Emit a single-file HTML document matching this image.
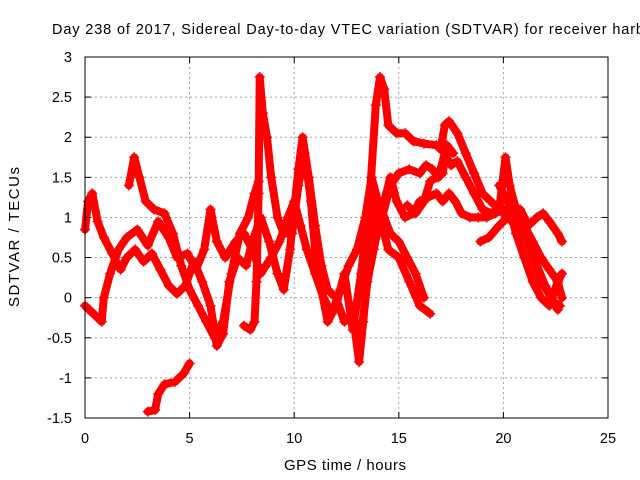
<!DOCTYPE html>
<html><head><meta charset="utf-8"><style>
body{margin:0;background:#fff}
svg{display:block;font-family:"Liberation Sans",sans-serif}
</style></head><body>
<svg id="chart" width="640" height="480" viewBox="0 0 640 480">
<rect width="640" height="480" fill="#fff"/>
<g id="grid"></g>
<g id="series"></g>
<rect x="85" y="57" width="523" height="361" fill="none" stroke="#000" stroke-width="1"/>
<g id="ticks"></g>
<text x="52" y="34" font-size="14.5" textLength="592" lengthAdjust="spacing">Day 238 of 2017, Sidereal Day-to-day VTEC variation (SDTVAR) for receiver harb</text>
<text transform="translate(19,237) rotate(-90)" text-anchor="middle" font-size="15" textLength="140" lengthAdjust="spacing">SDTVAR / TECUs</text>
<text x="345" y="470" text-anchor="middle" font-size="15" textLength="122" lengthAdjust="spacing">GPS time / hours</text>
</svg>
<script>
const xTicks=[0,5,10,15,20,25];
const yTicks=[-1.5,-1,-0.5,0,0.5,1,1.5,2,2.5,3];
const trackA=[[0,0.85],[0.15,1.2],[0.35,1.3],[0.6,0.95],[0.9,0.75],[1.3,0.55],[1.7,0.35],[2.0,0.5],[2.4,0.6],[2.8,0.45],[3.2,0.55],[3.6,0.35],[4.0,0.15],[4.4,0.05],[4.8,0.15],[5.2,0.45],[5.6,0.2],[6.0,-0.1],[6.3,-0.6],[6.6,-0.45],[6.9,0.2],[7.3,0.5],[7.7,0.4],[8.0,0.7],[8.4,1.0],[8.8,0.7],[9.2,0.3],[9.5,0.1],[9.8,0.6],[10.2,1.6],[10.4,2.0],[10.7,1.5],[11.0,0.9],[11.3,0.4],[11.6,0.1],[12.0,0.0],[12.4,-0.3],[12.8,-0.2],[13.1,-0.8],[13.3,-0.3],[13.6,0.5],[13.9,1.2],[14.2,0.9],[14.5,0.6],[15.0,0.5],[15.5,0.2],[16.0,-0.1],[16.5,-0.2]];
const trackB=[[0,-0.1],[0.4,-0.2],[0.8,-0.3],[0.9,0.0],[1.2,0.3],[1.6,0.6],[2.0,0.75],[2.5,0.85],[3.0,0.65],[3.5,0.95],[4.0,0.75],[4.4,0.5],[4.9,0.55],[5.3,0.35],[5.7,0.6],[6.0,1.1],[6.3,0.7],[6.7,0.5],[7.2,0.7],[7.6,0.8],[8.0,0.6],[8.4,0.3],[8.9,0.5],[9.3,0.7],[9.7,1.0],[10.0,1.2],[10.3,0.9],[10.6,0.6],[11.0,0.3],[11.4,0.0],[11.8,-0.2],[12.2,0.1],[12.6,0.4],[13.0,0.6],[13.4,1.0],[13.7,1.5],[14.0,1.2],[14.3,1.0],[14.6,0.8],[15.0,0.7],[15.4,0.5],[15.8,0.3],[16.2,0.0]];
const trackC=[[2.1,1.4],[2.35,1.75],[2.6,1.5],[2.9,1.2],[3.3,1.1],[3.8,1.05],[4.2,0.8],[4.6,0.4],[5.0,0.1],[5.4,-0.1],[5.8,-0.3],[6.2,-0.5],[6.6,-0.3],[7.0,0.3],[7.4,0.8],[7.8,1.0],[8.1,1.3],[8.3,1.45]];
const trackD=[[3.0,-1.42],[3.35,-1.4],[3.5,-1.2],[3.8,-1.08],[4.3,-1.05],[4.7,-0.95],[5.0,-0.82]];
const trackE=[[7.6,-0.35],[7.9,-0.4],[8.1,-0.3],[8.2,0.2],[8.3,1.3],[8.35,2.75],[8.5,2.3],[8.7,2.0],[8.9,1.5],[9.2,1.0],[9.5,0.8],[9.9,0.8],[10.2,1.4],[10.5,1.8],[10.8,1.2],[11.0,0.6],[11.3,0.1],[11.6,-0.3],[12.0,-0.1],[12.4,0.3],[12.8,-0.4],[13.2,0.3],[13.6,1.2],[13.9,2.4],[14.1,2.75],[14.3,2.6],[14.5,2.15],[14.9,2.05],[15.3,2.05],[15.7,1.95],[16.2,1.92],[16.8,1.9],[17.0,1.85],[17.2,2.15],[17.4,2.2],[17.8,2.05],[18.2,1.8],[18.6,1.55],[19.0,1.3],[19.4,1.2],[19.8,1.1],[20.2,1.0],[20.6,0.9],[21.0,0.8],[21.4,0.5],[21.8,0.2],[22.3,0.0],[22.6,-0.15]];
const trackF=[[12.9,-0.3],[13.2,-0.45],[13.5,0.2],[13.8,0.6],[14.2,1.1],[14.6,1.5],[14.9,1.2],[15.3,1.0],[15.7,1.05],[16.0,1.2],[16.4,1.25],[16.8,1.3],[17.1,1.2],[17.4,1.3],[17.7,1.2],[18.0,1.05],[18.4,1.0],[18.8,1.0],[19.2,1.0],[19.6,1.05],[20.0,1.1],[20.4,1.0],[20.8,0.9],[21.2,0.7],[21.6,0.4],[22.0,0.15],[22.4,-0.05],[22.7,-0.1]];
const trackG=[[14.2,1.0],[14.6,1.4],[15.0,1.55],[15.5,1.6],[16.0,1.55],[16.3,1.65],[16.6,1.6],[16.9,1.5],[17.2,1.8],[17.5,1.65],[17.8,1.7],[18.2,1.5],[18.6,1.3],[19.0,1.1],[19.4,1.05],[19.8,1.1],[20.1,1.75],[20.3,1.4],[20.6,1.1],[21.0,0.9],[21.4,0.7],[21.8,0.5],[22.2,0.35],[22.6,0.2],[22.8,0.0]];
const trackH=[[15.4,1.15],[15.8,1.05],[16.2,1.2],[16.5,1.45],[16.8,1.5],[17.1,1.55],[17.3,1.9],[17.6,1.8]];
const trackI=[[18.9,0.7],[19.3,0.75],[19.8,0.9],[20.2,1.0],[20.8,1.1],[21.2,0.9],[21.6,1.0],[21.9,1.05],[22.2,0.95],[22.6,0.8],[22.8,0.7]];
const trackJ=[[19.8,1.4],[20.2,1.2],[20.6,0.8],[21.0,0.5],[21.4,0.2],[21.8,0.0],[22.2,-0.1],[22.6,0.2],[22.8,0.3]];
const tracks=[trackA,trackB,trackC,trackD,trackE,trackF,trackG,trackH,trackI,trackJ];

const NS="http://www.w3.org/2000/svg";
const X0=85,X1=608,Y0=418,Y1=57;
function xs(t){return X0+(t-0)/(25-0)*(X1-X0);}
function ys(v){return Y0-(v+1.5)/(3+1.5)*(Y0-Y1);}
function mk(tag,attrs,parent){const e=document.createElementNS(NS,tag);for(const k in attrs)e.setAttribute(k,attrs[k]);parent.appendChild(e);return e;}
const grid=document.getElementById('grid'),ticks=document.getElementById('ticks'),series=document.getElementById('series');
xTicks.forEach(t=>{
  const x=xs(t);
  if(t>0&&t<25){const g=mk('line',{x1:x,x2:x,y1:Y1,y2:Y0,stroke:'#a0a0a0','stroke-dasharray':'2,3'},grid);
  
  }
  mk('line',{x1:x,x2:x,y1:Y0,y2:Y0-6,stroke:'#000'},ticks);
  mk('line',{x1:x,x2:x,y1:Y1,y2:Y1+6,stroke:'#000'},ticks);
  const l=mk('text',{x:x,y:443,'text-anchor':'middle','font-size':'14.5'},ticks);
  l.textContent=t;
  
  
});
yTicks.forEach(v=>{
  const y=ys(v);
  if(v>-1.5&&v<3){const g=mk('line',{x1:X0,x2:X1,y1:y,y2:y,stroke:'#a0a0a0','stroke-dasharray':'2,3'},grid);
  
  }
  mk('line',{x1:X0,x2:X0+6,y1:y,y2:y,stroke:'#000'},ticks);
  mk('line',{x1:X1,x2:X1-6,y1:y,y2:y,stroke:'#000'},ticks);
  const l=mk('text',{x:72,y:y+5,'text-anchor':'end','font-size':'14.5'},ticks);
  l.textContent=v;
  
  
});
tracks.forEach((tr,i)=>{
  const d=tr.map((p,j)=>(j?'L':'M')+xs(p[0]).toFixed(1)+','+ys(p[1]).toFixed(1)).join('');
  const path=mk('path',{d:d,fill:'none',stroke:'#ff0000','stroke-width':'8','stroke-linejoin':'round','stroke-linecap':'round'},series);
  
  
  tr.forEach(p=>{
    const x=xs(p[0]),y=ys(p[1]);
    const m=mk('path',{d:`M${x-5},${y}H${x+5}M${x},${y-5}V${y+5}`,stroke:'#ff0000','stroke-width':'1.5'},series);
    
    
  });
});
</script>
</body></html>
